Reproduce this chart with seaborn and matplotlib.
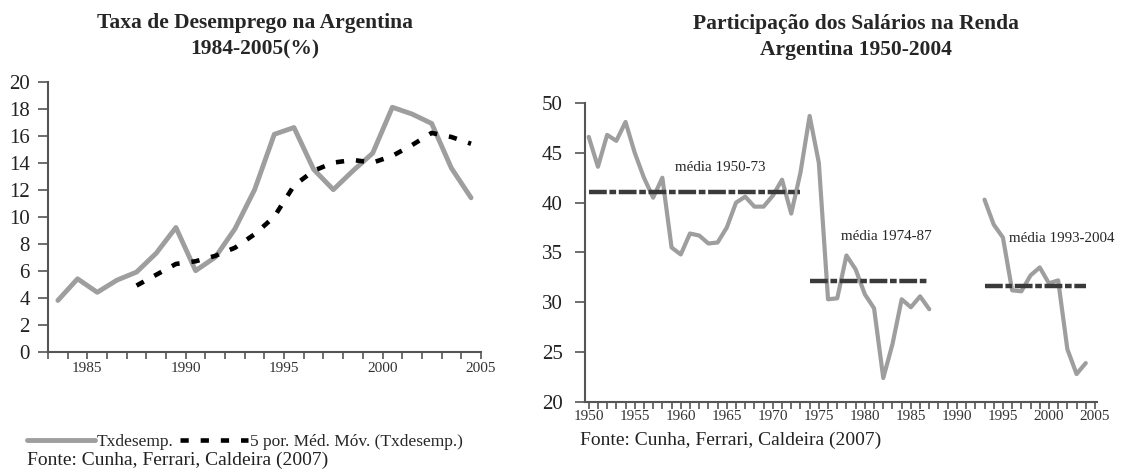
import matplotlib
matplotlib.use("Agg")
import matplotlib.pyplot as plt
import seaborn as sns
import pandas as pd
import numpy as np

# --- left chart: unemployment rate ---
unemp_years = list(range(1984, 2006))
unemp_rate = [3.8, 5.4, 4.4, 5.3, 5.9, 7.3, 9.2, 6.0, 7.0, 9.1, 12.0,
              16.1, 16.6, 13.5, 12.0, 13.4, 14.7, 18.1, 17.6, 16.9, 13.6, 11.4]
mavg_years = list(range(1988, 2006))
mavg_rate = [4.9, 5.7, 6.5, 6.7, 7.1, 7.7, 8.7, 10.0, 12.3, 13.4, 14.0,
             14.2, 14.0, 14.5, 15.3, 16.2, 15.9, 15.4]
left_tick_labels = ["1985", "1990", "1995", "2000", "2005"]

# --- right chart: wage share ---
wage_years_a = list(range(1950, 1988))
wage_share_a = [46.6, 43.6, 46.8, 46.2, 48.1, 45.0, 42.5, 40.5, 42.5, 35.5,
                34.8, 36.9, 36.7, 35.9, 36.0, 37.5, 40.0, 40.6, 39.6, 39.6,
                40.7, 42.3, 38.9, 43.0, 48.7, 44.0, 30.3, 30.4, 34.7, 33.3,
                30.8, 29.4, 22.4, 25.8, 30.3, 29.5, 30.6, 29.3]
wage_years_b = list(range(1993, 2005))
wage_share_b = [40.3, 37.8, 36.5, 31.2, 31.1, 32.7, 33.5, 31.9, 32.2,
                25.3, 22.8, 23.9]
mean_start = [1950, 1974, 1993]
mean_end = [1973, 1987, 2004]
mean_value = [41.1, 32.1, 31.6]
mean_labels = ["média 1950-73", "média 1974-87", "média 1993-2004"]
mean_label_x = [1959.4, 1977.4, 1995.7]
mean_label_y = [43.5, 36.6, 36.4]
right_tick_years = list(range(1950, 2010, 5))

sns.set_style("ticks")
plt.rcParams["font.family"] = ["Liberation Serif", "DejaVu Serif"]

GRAY = "#9e9e9e"
AXC = "#555555"
SOURCE = "Fonte: Cunha, Ferrari, Caldeira (2007)"

fig = plt.figure(figsize=(11.36, 4.69), dpi=100)
ax1 = fig.add_axes([0.0423, 0.250, 0.381, 0.576])
ax2 = fig.add_axes([0.515, 0.143, 0.4505, 0.6374])

# left
df_u = pd.DataFrame({"year": unemp_years, "rate": unemp_rate})
df_m = pd.DataFrame({"year": mavg_years, "rate": mavg_rate})
sns.lineplot(data=df_u, x="year", y="rate", ax=ax1, color=GRAY, lw=3.5,
             label="Txdesemp.")
sns.lineplot(data=df_m, x="year", y="rate", ax=ax1, color="black", lw=3.3,
             label="5 por. Méd. Móv. (Txdesemp.)")
ax1.lines[1].set_dashes((1.8, 2.6))
ax1.lines[1].set_dash_capstyle("butt")
ax1.set_xlim(1983.5, 2005.5)
ax1.set_ylim(0, 20)
ax1.set_yticks(range(0, 21, 2))
ax1.set_xticks(np.arange(1983.5, 2006, 1))
ax1.set_xticklabels([""] * len(ax1.get_xticks()))
for lab in left_tick_labels:
    ax1.text(int(lab) + 0.5, -0.75, lab, ha="center", va="top", fontsize=11,
             color="#333333")
ax1.set_xlabel("")
ax1.set_ylabel("")
ax1.get_legend().remove()

# right
df_w = pd.DataFrame({
    "year": wage_years_a + wage_years_b,
    "share": wage_share_a + wage_share_b,
    "seg": ["a"] * len(wage_years_a) + ["b"] * len(wage_years_b),
})
sns.lineplot(data=df_w, x="year", y="share", units="seg", estimator=None,
             ax=ax2, color=GRAY, lw=3.0)
n_series = len(ax2.lines)
df_mean = pd.DataFrame({
    "year": mean_start + mean_end,
    "share": mean_value + mean_value,
    "seg": mean_labels + mean_labels,
})
sns.lineplot(data=df_mean, x="year", y="share", units="seg", estimator=None,
             ax=ax2, color="#3a3a3a", lw=3.2)
for ln in ax2.lines[n_series:]:
    ln.set_dashes((4.0, 0.6, 1.5, 0.6))
    ln.set_dash_capstyle("butt")
for txt, x, y in zip(mean_labels, mean_label_x, mean_label_y):
    ax2.text(x, y, txt, fontsize=10.8, color="#262626", va="center")
ax2.set_xlim(1949.6, 2005.2)
ax2.set_ylim(20, 50)
ax2.set_yticks(range(20, 51, 5))
ax2.set_xticks(right_tick_years)
ax2.set_xticks(range(1950, 2006), minor=True)
ax2.set_xlabel("")
ax2.set_ylabel("")

for ax in (ax1, ax2):
    sns.despine(ax=ax)
    for s in ("left", "bottom"):
        ax.spines[s].set_color(AXC)
        ax.spines[s].set_linewidth(1.5)
    ax.tick_params(axis="y", labelsize=15, colors=AXC, labelcolor="#222222",
                   length=7, width=1.2, pad=6)
    ax.tick_params(axis="x", which="both", labelsize=11, colors=AXC,
                   labelcolor="#333333", length=5, width=1.2, pad=1)
ax2.tick_params(axis="y", pad=9)

# titles
fig.text(255 / 1136, 1 - 36 / 469,
         "Taxa de Desemprego na Argentina\n1984-2005(%)",
         ha="center", va="center", fontsize=15.5, fontweight="bold",
         linespacing=1.45)
fig.text(856 / 1136, 1 - 37 / 469,
         "Participação dos Salários na Renda\nArgentina 1950-2004",
         ha="center", va="center", fontsize=15.5, fontweight="bold",
         linespacing=1.45)

# legend + sources
fig.legend(handles=ax1.lines[:2],
           labels=["Txdesemp.", "5 por. Méd. Móv. (Txdesemp.)"],
           loc="center left", bbox_to_anchor=(27 / 1136, 1 - 442 / 469),
           ncol=2, frameon=False, fontsize=12.5, handlelength=3.9,
           handletextpad=0.1, columnspacing=0.4, borderaxespad=0, borderpad=0)
fig.text(27 / 1136, 1 - 460 / 469, SOURCE, fontsize=14, va="center",
         color="#222222")
fig.text(580 / 1136, 1 - 440 / 469, SOURCE, fontsize=14, va="center",
         color="#222222")

fig.savefig("out.png", dpi=100)
